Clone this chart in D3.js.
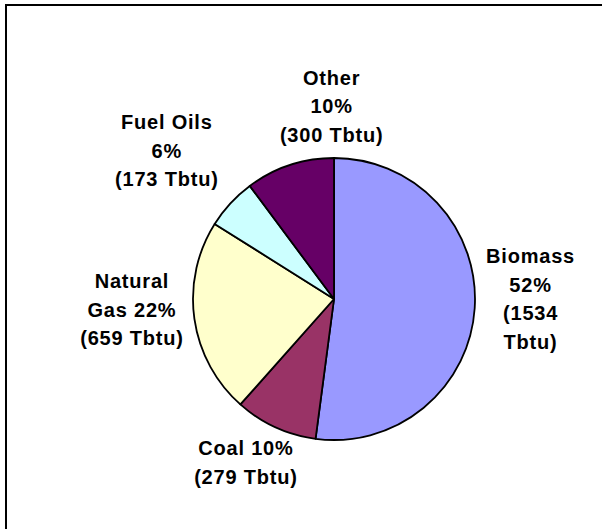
<!DOCTYPE html>
<html>
<head>
<meta charset="utf-8">
<script src="https://cdn.jsdelivr.net/npm/d3@7"></script>
<style>
  html, body { margin: 0; padding: 0; background: #fff; }
  svg { display: block; }
  .label { font-family: "Liberation Sans", Arial, sans-serif; font-weight: bold; font-size: 20px; letter-spacing: 0.8px; fill: #000; }
</style>
</head>
<body>
<script>
// data
var categories = ["Biomass", "Coal", "Natural Gas", "Fuel Oils", "Other"];
var values = [1534, 279, 659, 173, 300];            // Tbtu
var percentLabels = ["52%", "10%", "22%", "6%", "10%"];
var colors = ["#9999ff", "#993366", "#ffffcc", "#ccffff", "#660066"];

// how each label wraps in the original
var labelLines = [
  ["Biomass", "52%", "(1534", "Tbtu)"],
  ["Coal 10%", "(279 Tbtu)"],
  ["Natural", "Gas 22%", "(659 Tbtu)"],
  ["Fuel Oils", "6%", "(173 Tbtu)"],
  ["Other", "10%", "(300 Tbtu)"]
];
// small nudges from the radial label point (Excel places them by hand-ish)
var labelNudge = [[2, -13], [-7, -14], [-9, -17], [-24, -16], [59, -8]];

var W = 602, H = 529;
var cx = 334, cy = 299, radius = 141, labelRadius = 195, lineH = 28.5;

var svg = d3.select("body").append("svg")
    .attr("width", W)
    .attr("height", H);

// chart frame - only top and left edges are inside the window
svg.append("rect")
    .attr("x", 6).attr("y", 5)
    .attr("width", W + 20).attr("height", H + 20)
    .attr("fill", "none")
    .attr("stroke", "#000")
    .attr("stroke-width", 2);

var data = categories.map(function (c, i) {
  return { name: c, value: values[i], pct: percentLabels[i], color: colors[i], lines: labelLines[i], nudge: labelNudge[i] };
});

var pie = d3.pie().sort(null).value(function (d) { return d.value; });
var arc = d3.arc().innerRadius(0).outerRadius(radius);
var labelArc = d3.arc().innerRadius(labelRadius).outerRadius(labelRadius);

var g = svg.append("g").attr("transform", "translate(" + cx + "," + cy + ")");

var slices = g.selectAll(".slice")
    .data(pie(data))
    .enter().append("g")
    .attr("class", "slice");

slices.append("path")
    .attr("d", arc)
    .attr("fill", function (d) { return d.data.color; })
    .attr("stroke", "#000")
    .attr("stroke-width", 1.8)
    .attr("stroke-linejoin", "round");

//labels outside the pie, multi-line, centred on a point
slices.each(function (d) {
  var mid = (d.startAngle + d.endAngle) / 2;
  var p = [Math.sin(mid) * labelRadius + d.data.nudge[0], -Math.cos(mid) * labelRadius + d.data.nudge[1]];
  var n = d.data.lines.length;
  var t = d3.select(this).append("text")
      .attr("class", "label")
      .attr("text-anchor", "middle");
  d.data.lines.forEach(function (line, i) {
    t.append("tspan")
        .attr("x", p[0])
        .attr("y", p[1] + (i - (n - 1) / 2) * lineH)
        .attr("dy", "0.36em")
        .text(line);
  });
});
</script>
</body>
</html>
